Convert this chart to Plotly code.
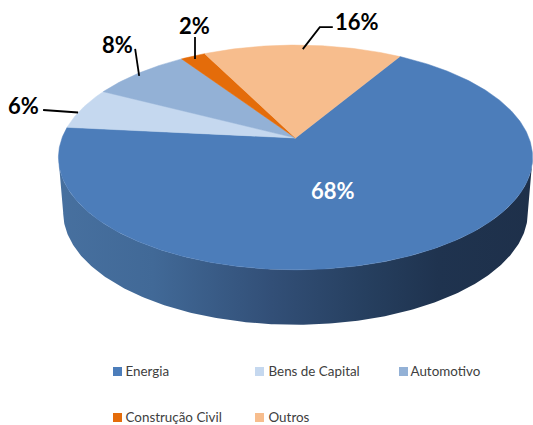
import numpy as np
import plotly.graph_objects as go

# Shares of each sector, in percent, clockwise from the start angle
categories = ["Energia", "Bens de Capital", "Automotivo", "Construção Civil", "Outros"]
shares = [68, 6, 8, 2, 16]
slice_colors = ["#4c7dba", "#c5d8ef", "#93b1d6", "#e46c0a", "#f7bd8d"]
percent_labels = ["68%", "6%", "8%", "2%", "16%"]

# Tilted-disc geometry, in plot units (the axes span the page 1:1)
CX, CY = 295.5, 138.0
RX, RY = 233.5, 109.0
PERSPECTIVE = 0.173
START_ANGLE = 30.9
DEPTH = 55.0
LOWER_RIM_SCALE = 0.98

# Label anchors and leader offsets from the rim point of each slice
label_xy = {"6%": (23, 105), "8%": (117, 44), "2%": (194, 25), "16%": (357, 21)}
leader_paths = {
    "6%": [(-4, 4), (-39, 1.5)],
    "8%": [(0, 3), (-4, -24)],
    "2%": [(2, 3), (2, -19)],
    "16%": [(0, 4), (17, -18), (30, -18)],
}


def project(angle_deg):
    """Map a clockwise-from-north disc angle onto the tilted page plane."""
    a = np.radians(angle_deg)
    u, v = np.sin(a), np.cos(a)
    w = 1 + PERSPECTIVE * v
    return CX + RX * u / w, CY - RY * v / w


fig = go.Figure()

# Side wall: lower rim out and upper rim back along the front of the disc
side = np.degrees(np.arccos(-PERSPECTIVE))
front = np.linspace(side, 360 - side, 240)
top_x, top_y = project(front)
low_x = CX + (top_x - CX) * LOWER_RIM_SCALE
low_y = top_y + DEPTH
fig.add_trace(go.Scatter(
    x=np.r_[low_x, top_x[::-1]],
    y=np.r_[low_y, top_y[::-1]],
    mode="lines",
    line=dict(width=0),
    fill="toself",
    fillgradient=dict(
        type="horizontal",
        colorscale=[
            [0.0, "#47709f"],
            [0.2, "#416997"],
            [0.45, "#324f77"],
            [0.65, "#263f5f"],
            [0.8, "#1f334f"],
            [1.0, "#1e304a"],
        ],
    ),
    hoverinfo="skip",
    showlegend=False,
))

# Top face, one filled wedge per share
edges = START_ANGLE + np.r_[0, np.cumsum(shares)] * 3.6
mid_angles = {}
for i, cat in enumerate(categories):
    arc = np.linspace(edges[i], edges[i + 1], max(int(shares[i] * 6), 12))
    rim_x, rim_y = project(arc)
    fig.add_trace(go.Scatter(
        x=np.r_[CX, rim_x, CX],
        y=np.r_[CY, rim_y, CY],
        mode="lines",
        line=dict(width=0.5, color=slice_colors[i]),
        fill="toself",
        fillcolor=slice_colors[i],
        name=cat,
        hoverinfo="name",
        showlegend=False,
    ))
    mid_angles[percent_labels[i]] = (edges[i] + edges[i + 1]) / 2

# Leader lines run from the rim at each slice's mid angle
for lab, offsets in leader_paths.items():
    rx, ry = project(mid_angles[lab])
    fig.add_trace(go.Scatter(
        x=[rx + dx for dx, _ in offsets],
        y=[ry + dy for _, dy in offsets],
        mode="lines",
        line=dict(color="#000000", width=1.8),
        hoverinfo="skip",
        showlegend=False,
    ))

annotations = [
    dict(x=x, y=y, text=f"<b>{lab}</b>", showarrow=False,
         font=dict(family="Lato", size=22, color="#000000"))
    for lab, (x, y) in label_xy.items()
]
annotations.append(dict(x=333, y=190, text="<b>68%</b>", showarrow=False,
                        font=dict(family="Lato", size=22, color="#ffffff")))

# Key laid out in three columns and two rows
key_x = [117.5, 259.5, 403.5, 117.5, 259.5]
key_y = [371.5, 371.5, 371.5, 417.5, 417.5]
key_text_x = [125.5, 268.5, 410.5, 125.5, 268.5]
fig.add_trace(go.Scatter(
    x=key_x,
    y=key_y,
    mode="markers",
    marker=dict(symbol="square", size=9, color=slice_colors),
    cliponaxis=False,
    hoverinfo="skip",
    showlegend=False,
))
fig.add_trace(go.Scatter(
    x=key_text_x,
    y=[y + 1 for y in key_y],
    mode="text",
    text=categories,
    textposition="middle right",
    textfont=dict(family="Lato", size=13.4, color="#404040"),
    cliponaxis=False,
    hoverinfo="skip",
    showlegend=False,
))

fig.update_layout(
    width=533,
    height=425,
    margin=dict(l=0, r=0, t=0, b=0),
    paper_bgcolor="#ffffff",
    plot_bgcolor="#ffffff",
    xaxis=dict(range=[0, 533], visible=False, fixedrange=True),
    yaxis=dict(range=[425, 0], visible=False, fixedrange=True),
    annotations=annotations,
    showlegend=False,
)

fig.write_html("out.html", config={"displayModeBar": False})
